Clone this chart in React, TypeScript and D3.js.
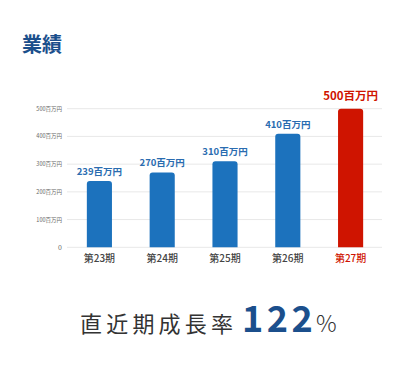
import React from "react";
import * as d3 from "d3";

const categories = ["第23期", "第24期", "第25期", "第26期", "第27期"];
const values = [239, 270, 310, 410, 500];
const valueLabels = ["239百万円", "270百万円", "310百万円", "410百万円", "500百万円"];
const yTicks = [0, 100, 200, 300, 400, 500];
const yTickLabels = ["0", "100百万円", "200百万円", "300百万円", "400百万円", "500百万円"];
const title = "業績";
const growthLabel = "直近期成長率";
const growthValue = "122";
const growthUnit = "%";

const W = 410;
const H = 372;
const FONT = "'Noto Sans CJK JP', 'Noto Sans', sans-serif";
const BLUE = "#1c72bd";
const RED = "#cf1400";
const NAVY = "#1b4f8c";

function roundTopRect(x: number, y: number, w: number, h: number, r: number) {
  const rr = Math.min(r, h, w / 2);
  return `M${x},${y + h}V${y + rr}Q${x},${y} ${x + rr},${y}H${x + w - rr}Q${x + w},${y} ${x + w},${y + rr}V${y + h}Z`;
}

export default function App() {
  const x = d3.scaleBand<string>().domain(categories).range([68, 382]).paddingInner(0.6).paddingOuter(0.3);
  const y = d3.scaleLinear().domain([0, 500]).range([247.3, 108.7]);
  const last = categories.length - 1;
  return (
    <svg width={W} height={H} style={{ position: "absolute", left: 0, top: 0, background: "#fff" }} fontFamily={FONT}>
      <text x={22} y={52} fontSize={20} fontWeight={700} fill={NAVY}>{title}</text>
      {yTicks.map((t, i) => (
        <g key={t}>
          <line x1={67} x2={382} y1={y(t)} y2={y(t)} stroke="#e8e8e8" strokeWidth={1} />
          <text x={62} y={y(t)} dy="0.35em" textAnchor="end" fontSize={t === 0 ? 7 : 5.5} fill="#666">{yTickLabels[i]}</text>
        </g>
      ))}
      {categories.map((c, i) => {
        const bx = x(c)!;
        const bw = x.bandwidth();
        const top = y(values[i]);
        const isLast = i === last;
        return (
          <g key={c}>
            <path d={roundTopRect(bx, top, bw, y(0) - top, 3)} fill={isLast ? RED : BLUE} />
            <text x={bx + bw / 2} y={top - (isLast ? 9 : 6)} textAnchor="middle" fontSize={isLast ? 11.5 : 9.5} fontWeight={700} fill={isLast ? RED : "#2a6cb0"}>{valueLabels[i]}</text>
            <text x={bx + bw / 2} y={262} textAnchor="middle" fontSize={10} fontWeight={500} fill={isLast ? RED : "#444"}>{c}</text>
          </g>
        );
      })}
      <text x={80} y={332} fontSize={22} fill="#333" letterSpacing={4.2}>{growthLabel}</text>
      <text x={242} y={332} fontSize={36} fontWeight={700} fill={NAVY} letterSpacing={3.5}>{growthValue}</text>
      <text x={316} y={332} fontSize={23} fontWeight={300} fill="#333">{growthUnit}</text>
    </svg>
  );
}
